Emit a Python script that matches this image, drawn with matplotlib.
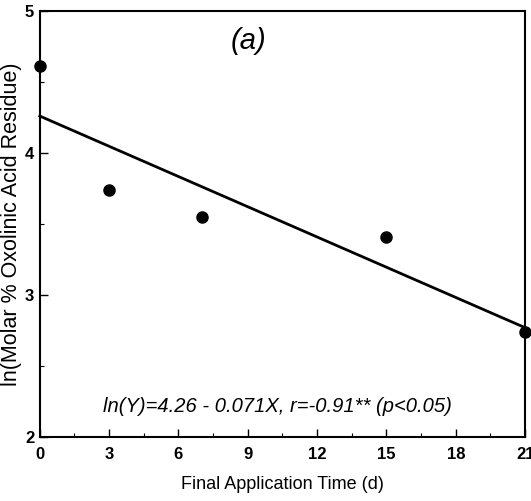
import numpy as np
import matplotlib.pyplot as plt
from matplotlib.ticker import MultipleLocator

plt.rcParams['font.family'] = ['Liberation Sans', 'DejaVu Sans']

# --- data ---
days = [0, 3, 7, 15, 21]
ln_residue = [4.61, 3.74, 3.55, 3.41, 2.74]

# regression line reported on the chart
intercept = 4.26
slope = -0.071
fit_x = np.array([0, 21])

x_ticks = [0, 3, 6, 9, 12, 15, 18, 21]
y_ticks = [2, 3, 4, 5]

fig = plt.figure(figsize=(5.31, 5.01), dpi=100)
ax = fig.add_axes([0.075, 0.128, 0.914, 0.85])

ax.plot(fit_x, intercept + slope * fit_x, color='black', lw=2, clip_on=False)
ax.plot(days, ln_residue, 'o', color='black', ms=8, clip_on=False, zorder=3)

ax.set_xlim(0, 21)
ax.set_ylim(2, 5)
ax.set_xticks(x_ticks)
ax.set_yticks(y_ticks)
ax.xaxis.set_minor_locator(MultipleLocator(1.5))
ax.yaxis.set_minor_locator(MultipleLocator(0.5))
ax.tick_params(which='major', direction='in', length=6, width=1,
               labelsize=12, pad=4)
ax.tick_params(axis='x', which='major', pad=7)
ax.tick_params(which='minor', direction='in', length=3, width=0.8)
for lab in ax.get_xticklabels() + ax.get_yticklabels():
    lab.set_fontweight('bold')

for sp in ax.spines.values():
    sp.set_linewidth(1.5)

ax.set_xlabel('Final Application Time (d)', fontsize=13)
ax.xaxis.set_label_coords(0.5, -0.092)
ax.set_ylabel('ln(Molar % Oxolinic Acid Residue)', fontsize=15.5)
ax.yaxis.set_label_coords(-0.037, 0.5)

ax.text(0.43, 0.93, '(a)', transform=ax.transAxes, fontsize=21,
        style='italic', ha='center', va='center')
ax.text(0.49, 0.072, 'ln(Y)=4.26 - 0.071X, r=-0.91** (p<0.05)',
        transform=ax.transAxes, fontsize=14.5, style='italic',
        ha='center', va='center')

fig.savefig('out.png', dpi=100)
